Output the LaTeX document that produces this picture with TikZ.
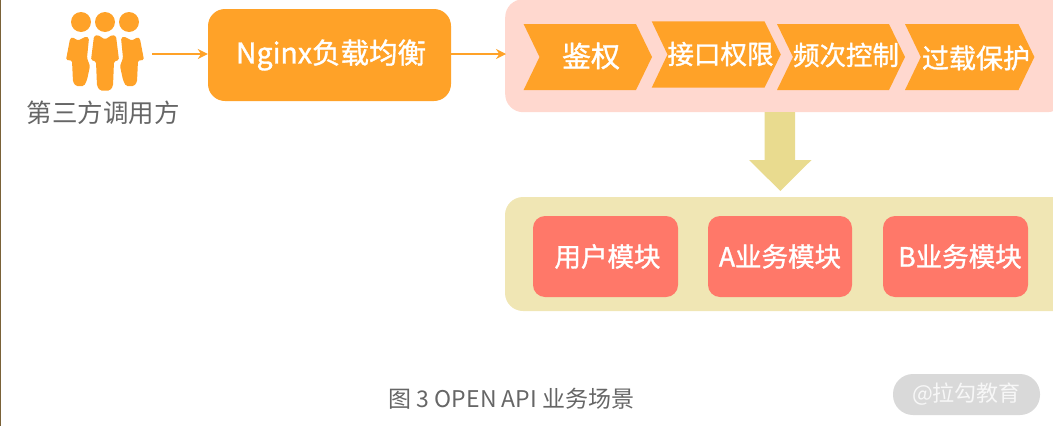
\documentclass[tikz,border=0pt]{standalone}
\usepackage{fontspec}
\usetikzlibrary{arrows.meta}
\setmainfont{Noto Sans CJK SC}
\newfontfamily\medfont[FakeBold=1.2]{Noto Sans CJK SC}
\definecolor{orangeC}{HTML}{FFA228}
\definecolor{pinkC}{HTML}{FFD8CF}
\definecolor{beigeC}{HTML}{F0E6B4}
\definecolor{redC}{HTML}{FF7869}
\definecolor{arrowC}{HTML}{E9DB8F}
\definecolor{textC}{HTML}{666666}
\definecolor{pillC}{HTML}{D9D9D9}
\definecolor{edgeC}{HTML}{7A6238}
\newcommand{\chev}[6]{% left notch right tip top bottom
  \fill[orangeC] (#1,#5) -- (#3,#5) -- (#4,{(#5+#6)/2}) -- (#3,#6) -- (#1,#6) -- (#2,{(#5+#6)/2}) -- cycle;}
\tikzset{
  x=1pt,y=-1pt,
  label text/.style={text=white,inner sep=0pt},
  flow/.style={orangeC,line width=1.5pt,-{Stealth[length=10pt,width=10pt]}},
  modbox/.style={fill=redC,rounded corners=12pt,minimum width=145pt,minimum height=81pt,inner sep=0pt,text=white,font=\fontsize{26.5}{26.5}\medfont},
  personshape/.style={fill=orangeC,rounded corners=1.5pt},
}
\begin{document}
\begin{tikzpicture}
\useasboundingbox (0,0) rectangle (1053,426);
\fill[edgeC] (0,0) rectangle (1,426);
% people
\fill[orangeC] (81,22) circle (10);
\fill[orangeC] (105,22) circle (10);
\fill[orangeC] (129,22) circle (10);
\fill[personshape] (78,40.5) -- (72,37) -- (70,39) -- (66,60) -- (72,60.5) -- (73,82) -- (76,86) -- (84,86) -- (87,80) -- (90,66) -- (87,58) -- (89,38) -- (86,36.5) -- cycle;
\fill[personshape] (132,40.5) -- (138,37) -- (140,39) -- (144,60) -- (138,60.5) -- (137,82) -- (134,86) -- (126,86) -- (123,80) -- (120,66) -- (123,58) -- (121,38) -- (124,36.5) -- cycle;
\fill[personshape] (105,39.5) -- (98,35) -- (94,36) -- (91,60) -- (96,61.5) -- (97,86) -- (100,90.5) -- (110,90.5) -- (113,86) -- (114,61.5) -- (119,60) -- (116,36) -- (112,35) -- cycle;
\node[text=textC,inner sep=0pt,font=\fontsize{25.5}{25.5}\selectfont] (third) at (103.5,113) {第三方调用方};
\coordinate (peopleOut) at (152,54);
% Nginx
\node[fill=orangeC,rounded corners=17pt,minimum width=243pt,minimum height=92pt,inner sep=0pt] (nginx) at (329.5,55) {};
\node[label text,font=\fontsize{28.5}{28.5}\medfont] (nginxt) at (331,55) {Nginx负载均衡};
% pink panel
\node[fill=pinkC,rounded corners=18pt,minimum width=560pt,minimum height=113pt,inner sep=0pt,anchor=north west] (auth) at (505,-1) {};
\coordinate (authIn) at (506,54);
\draw[flow] (peopleOut) -- (nginx.west |- peopleOut);
\draw[flow] (nginx.east |- authIn) -- (authIn);
% chevrons
\chev{523.6}{539.5}{636}{652}{24}{90}
\chev{651.7}{667.5}{764.5}{780.8}{21.3}{87.7}
\chev{777}{793}{889}{905}{24}{90}
\chev{905}{920.8}{1018.5}{1034.4}{24}{90}
\node[label text,font=\fontsize{29}{29}\medfont] (c1) at (591,56) {鉴权};
\node[label text,font=\fontsize{26.5}{26.5}\medfont] (c2) at (720.5,54) {接口权限};
\node[label text,font=\fontsize{26.5}{26.5}\medfont] (c3) at (846,55) {频次控制};
\node[label text,font=\fontsize{27}{27}\medfont] (c4) at (976,58) {过载保护};
% big arrow
\fill[arrowC] (764.5,112) -- (795,112) -- (795,160) -- (811.5,160) -- (780.4,191) -- (749,160) -- (764.5,160) -- cycle;
% beige panel
\fill[beigeC,rounded corners=18pt] (505,197) rectangle (1071,311);
\fill[white] (1053,190) rectangle (1072,320);
\node[modbox] (m1) at (605.5,256.5) {};
\node[label text,font=\fontsize{26.5}{26.5}\medfont] (m1t) at (607.5,256.5) {用户模块};
\node[modbox,minimum width=144pt] (m2) at (780,256.5) {};
\node[label text,font=\fontsize{26.5}{26.5}\medfont] (m2t) at (780,256.5) {A业务模块};
\node[modbox] (m3) at (955.5,256.5) {};
\node[label text,font=\fontsize{26.5}{26.5}\medfont] (m3t) at (960,256.5) {B业务模块};
% caption
\node[text=textC,inner sep=0pt,font=\fontsize{23}{23}\selectfont] (cap) at (511.5,399) {图 3 OPEN API 业务场景};
% watermark
\node[fill=pillC,rounded corners=20pt,minimum width=147pt,minimum height=41pt,inner sep=0pt,text=white!80!pillC,font=\fontsize{22}{22}\selectfont] (wm) at (966.5,394.5) {@拉勾教育};
\end{tikzpicture}
\end{document}
